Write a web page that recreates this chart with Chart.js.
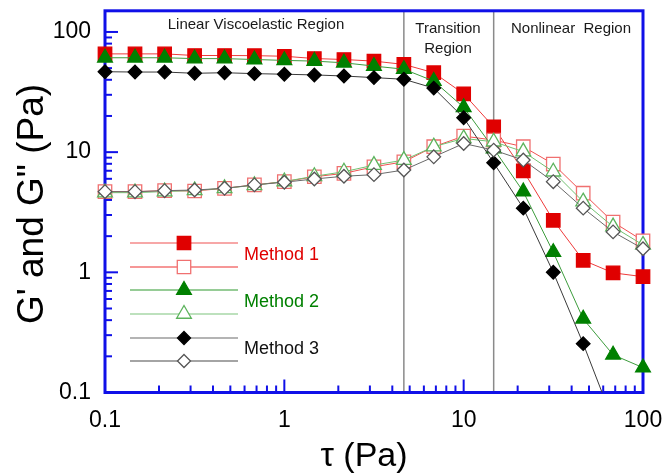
<!DOCTYPE html>
<html><head><meta charset="utf-8">
<script src="https://cdn.jsdelivr.net/npm/chart.js@4.4.0/dist/chart.umd.min.js"></script>
<style>html,body{margin:0;padding:0;background:#fff}canvas{display:block}</style>
</head><body>
<canvas id="c" width="670" height="474"></canvas>
<script>
// ---- data ----
const tau  = [0.1, 0.147, 0.215, 0.316, 0.464, 0.681, 1, 1.47, 2.15, 3.16, 4.64, 6.81, 10, 14.7, 21.5, 31.6, 46.4, 68.1, 100];
const m1G1 = [65.7, 65.7, 65.7, 63.7, 63.7, 63.5, 62.8, 60.1, 59.0, 57.2, 53.7, 45.8, 30.6, 16.2, 7.0, 2.71, 1.26, 0.99, 0.92];
const m1G2 = [4.69, 4.69, 4.78, 4.75, 5.0, 5.34, 5.68, 6.24, 6.66, 7.55, 8.31, 11.1, 13.6, 12.6, 11.1, 7.96, 4.55, 2.62, 1.83];
const m2G1 = [61, 61, 61, 60, 60, 59, 58, 57.2, 55.4, 52, 49, 39, 23.6, 10.7, 4.69, 1.47, 0.41, 0.206, 0.161];
const m2G2 = [4.6, 4.6, 4.7, 4.8, 5.0, 5.3, 5.7, 6.3, 6.87, 7.8, 8.59, 11.1, 13.0, 12.2, 10.1, 6.87, 3.87, 2.40, 1.69];
const m3G1 = [46.7, 46.4, 46.4, 45.3, 45.8, 45.0, 44.5, 43.9, 43.0, 41.7, 40.4, 34.1, 19.3, 8.15, 3.42, 1.0, 0.255, 0.058, null];
const m3G2 = [4.69, 4.69, 4.78, 4.84, 5.0, 5.34, 5.62, 5.98, 6.3, 6.5, 7.1, 9.14, 11.8, 10.4, 8.59, 5.68, 3.42, 2.17, 1.57];
const regionBounds = [4.64, 14.7];
const xTickValues = [0.1, 1, 10, 100];
const xTickLabels = ['0.1', '1', '10', '100'];
const yTickValues = [0.1, 1, 10, 100];
const yTickLabels = ['0.1', '1', '10', '100'];
const methodNames = ['Method 1', 'Method 2', 'Method 3'];
const regionNames = ['Linear Viscoelastic Region', 'Transition', 'Region', 'Nonlinear  Region'];

const FONT = "Arial, 'Liberation Sans', sans-serif";
const pts = arr => arr.map((v, i) => ({x: tau[i], y: v}));

function series(label, data, style, r, bg, pb, line, order, extra) {
  return Object.assign({
    label, data: pts(data), pointStyle: style, pointRadius: r, pointHoverRadius: r,
    pointBackgroundColor: bg, pointBorderColor: pb, pointBorderWidth: 1.3,
    borderColor: line, borderWidth: 1, backgroundColor: bg, tension: 0,
    order, clip: false, showLine: true
  }, extra || {});
}

const datasets = [
  series("M1 G'",  m1G1, 'rect', 9.5, '#e00000', '#e00000', '#ee3a3a', 6),
  series("M1 G''", m1G2, 'rect', 9.5, '#ffffff', '#f07070', '#f05050', 5),
  series("M2 G'",  m2G1, 'triangle', 8.5, '#008000', '#008000', '#3c9c3c', 4),
  series("M2 G''", m2G2, 'triangle', 8.5, '#ffffff', '#5cb35c', '#72c072', 3),
  series("M3 G'",  m3G1, 'rectRot', 6.8, '#000000', '#000000', '#3a3a3a', 2,
         {clip: {left: false, right: false, top: false, bottom: 0}}),
  series("M3 G''", m3G2, 'rectRot', 6.8, '#ffffff', '#555555', '#6a6a6a', 1)
];

function drawMarker(ctx, style, x, y, r, fill, stroke) {
  ctx.save();
  ctx.beginPath();
  if (style === 'rect') {
    const s = r * Math.SQRT1_2;
    ctx.rect(x - s, y - s, 2 * s, 2 * s);
  } else if (style === 'triangle') {
    let a = 0;
    ctx.moveTo(x + Math.sin(a) * r, y - Math.cos(a) * r);
    a += 2 * Math.PI / 3;
    ctx.lineTo(x + Math.sin(a) * r, y - Math.cos(a) * r);
    a += 2 * Math.PI / 3;
    ctx.lineTo(x + Math.sin(a) * r, y - Math.cos(a) * r);
    ctx.closePath();
  } else {
    ctx.moveTo(x, y - r); ctx.lineTo(x + r, y); ctx.lineTo(x, y + r); ctx.lineTo(x - r, y); ctx.closePath();
  }
  ctx.fillStyle = fill; ctx.fill();
  ctx.lineWidth = 1.3; ctx.strokeStyle = stroke; ctx.stroke();
  ctx.restore();
}

const decor = {
  id: 'decor',
  beforeDatasetsDraw(chart) {
    const {ctx, chartArea: a, scales: {x, y}} = chart;
    ctx.save();
    ctx.strokeStyle = '#8a8a8a'; ctx.lineWidth = 1.5;
    regionBounds.forEach(v => {
      const px = x.getPixelForValue(v);
      ctx.beginPath(); ctx.moveTo(px, a.top); ctx.lineTo(px, a.bottom); ctx.stroke();
    });
    ctx.strokeStyle = '#1010e8'; ctx.lineWidth = 2;
    [0.1, 1, 10].forEach(d => {
      for (let m = 1; m <= 9; m++) {
        const v = d * m, len = m === 1 ? 13 : 7;
        const py = y.getPixelForValue(v);
        ctx.beginPath(); ctx.moveTo(a.left, py); ctx.lineTo(a.left + len, py); ctx.stroke();
        const px = x.getPixelForValue(v);
        ctx.beginPath(); ctx.moveTo(px, a.bottom); ctx.lineTo(px, a.bottom - len); ctx.stroke();
      }
    });
    const p100 = y.getPixelForValue(100);
    ctx.beginPath(); ctx.moveTo(a.left, p100); ctx.lineTo(a.left + 13, p100); ctx.stroke();
    ctx.strokeStyle = '#1010e8'; ctx.lineWidth = 3;
    ctx.strokeRect(a.left, a.top, a.right - a.left, a.bottom - a.top);
    ctx.restore();
  },
  afterDatasetsDraw(chart) {
    const {ctx, chartArea: a} = chart;
    ctx.save();
    ctx.fillStyle = '#1a1a1a'; ctx.font = '15px ' + FONT;
    ctx.textAlign = 'center'; ctx.textBaseline = 'middle';
    ctx.fillText(regionNames[0], a.left + 151, a.top + 14);
    ctx.fillText(regionNames[1], a.left + 343, a.top + 18);
    ctx.fillText(regionNames[2], a.left + 343, a.top + 38);
    ctx.fillText(regionNames[3], a.left + 466, a.top + 18);
    const rows = [
      {y: 243, line: '#f05050', style: 'rect', r: 9.5, fill: '#e00000', stroke: '#e00000'},
      {y: 267, line: '#ee3030', style: 'rect', r: 9.5, fill: '#ffffff', stroke: '#f07070'},
      {y: 290, line: '#2e9a2e', style: 'triangle', r: 8.5, fill: '#008000', stroke: '#008000'},
      {y: 314, line: '#7cc47c', style: 'triangle', r: 8.5, fill: '#ffffff', stroke: '#5cb35c'},
      {y: 338, line: '#6a6a6a', style: 'rectRot', r: 6.5, fill: '#000000', stroke: '#000000'},
      {y: 361, line: '#4a4a4a', style: 'rectRot', r: 6.5, fill: '#ffffff', stroke: '#555555'}
    ];
    rows.forEach(rw => {
      ctx.strokeStyle = rw.line; ctx.lineWidth = 1.2;
      ctx.beginPath(); ctx.moveTo(130, rw.y); ctx.lineTo(238, rw.y); ctx.stroke();
      drawMarker(ctx, rw.style, 184, rw.y, rw.r, rw.fill, rw.stroke);
    });
    ctx.font = '18px ' + FONT; ctx.textAlign = 'left';
    const lc = ['#e00000', '#008000', '#111111'];
    [255, 302, 349].forEach((ly, i) => { ctx.fillStyle = lc[i]; ctx.fillText(methodNames[i], 244, ly); });
    ctx.fillStyle = '#000'; ctx.textAlign = 'center';
    ctx.font = '34px ' + FONT;
    ctx.fillText('τ (Pa)', 364, 457);
    ctx.translate(33, 204); ctx.rotate(-Math.PI / 2);
    ctx.font = '37px ' + FONT;
    ctx.fillText('G\' and G" (Pa)', 0, 0);
    ctx.restore();
  }
};

new Chart(document.getElementById('c'), {
  type: 'line',
  data: {datasets},
  options: {
    responsive: false, animation: false, devicePixelRatio: 1,
    layout: {padding: {top: 9, right: 27, left: 0, bottom: 0}},
    plugins: {legend: {display: false}, tooltip: {enabled: false}},
    scales: {
      x: {
        type: 'logarithmic', min: 0.1, max: 100, position: 'bottom',
        afterBuildTicks: s => { s.ticks = xTickValues.map(v => ({value: v})); },
        ticks: {callback: (v, i) => xTickLabels[i], font: {size: 23, family: FONT}, color: '#000',
                padding: 14, maxRotation: 0, autoSkip: false},
        grid: {display: false, drawTicks: false}, border: {display: false},
        afterFit: s => { s.height = 81.5; s.paddingLeft = 0; s.paddingRight = 0; s.paddingTop = 0; s.paddingBottom = 0; }
      },
      y: {
        type: 'logarithmic', min: 0.1, max: 150, position: 'left',
        afterBuildTicks: s => { s.ticks = yTickValues.map(v => ({value: v})); },
        ticks: {callback: (v, i) => yTickLabels[i], font: {size: 23, family: FONT}, color: '#000',
                padding: 14, autoSkip: false},
        grid: {display: false, drawTicks: false}, border: {display: false},
        afterFit: s => { s.width = 105; s.paddingLeft = 0; s.paddingRight = 0; s.paddingTop = 0; s.paddingBottom = 0; }
      }
    }
  },
  plugins: [decor]
});
</script>
</body></html>
